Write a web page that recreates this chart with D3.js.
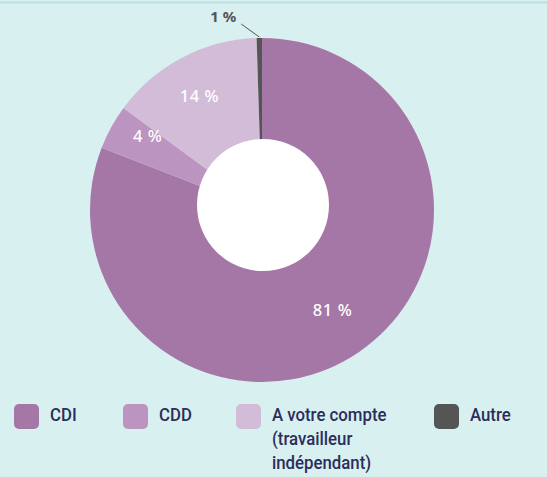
<!DOCTYPE html>
<html>
<head>
<meta charset="utf-8">
<script src="https://cdn.jsdelivr.net/npm/d3@7"></script>
<style>
  html, body { margin: 0; padding: 0; background: #d9f0f0; }
  svg { display: block; }
</style>
</head>
<body>
<div id="chart"></div>
<script>
  // données
  var categories = ['CDI', 'CDD', 'A votre compte (travailleur indépendant)', 'Autre'];
  var values = [80.9, 4.2, 14.4, 0.5];
  var valueLabels = ['81 %', '4 %', '14 %', '1 %'];
  var legendLines = [['CDI'], ['CDD'], ['A votre compte', '(travailleur', 'indépendant)'], ['Autre']];
  var colors = ['#a577a7', '#bb94bf', '#d3bcd8', '#555555'];

  var width = 547, height = 477;
  var cx = 262, cy = 210;
  var outerR = 172, innerR = 66;

  var svg = d3.select('#chart')
    .append('svg')
    .attr('width', width)
    .attr('height', height);

  svg.append('rect')
    .attr('width', width)
    .attr('height', height)
    .attr('fill', '#d9f0f0');

  svg.append('line')
    .attr('x1', 0).attr('x2', width)
    .attr('y1', 2.5).attr('y2', 2.5)
    .style('stroke', '#bcdfe3')
    .style('stroke-width', '2px');

  var pie = d3.pie().sort(null).value(function(d) { return d; });
  var arcs = pie(values);

  var arc = d3.arc().innerRadius(0).outerRadius(outerR);

  var g = svg.append('g')
    .attr('transform', 'translate(' + cx + ',' + cy + ')');

  g.selectAll('path')
    .data(arcs)
    .enter()
    .append('path')
    .attr('d', arc)
    .attr('fill', function(d, i) { return colors[i]; });

  // trou central (légèrement décalé vers le haut comme dans l'original)
  g.append('circle')
    .attr('cx', 1)
    .attr('cy', -5)
    .attr('r', innerR)
    .attr('fill', '#ffffff');

  // étiquettes internes
  var labelRadius = [125, 135, 128];
  var labelShift = [[0, -3], [4, -9], [-3, 0]];
  g.selectAll('text.val')
    .data(arcs.slice(0, 3))
    .enter()
    .append('text')
    .attr('class', 'val')
    .attr('transform', function(d, i) {
      var a = (d.startAngle + d.endAngle) / 2;
      var x = Math.sin(a) * labelRadius[i] + labelShift[i][0];
      var y = -Math.cos(a) * labelRadius[i] + labelShift[i][1];
      return 'translate(' + x + ',' + y + ')';
    })
    .attr('text-anchor', 'middle')
    .attr('dy', '0.35em')
    .style('font-family', '"Noto Sans", sans-serif')
    .style('font-size', '16.5px')
    .style('font-weight', '500')
    .style('letter-spacing', '0.6px')
    .style('fill', '#ffffff')
    .text(function(d, i) { return valueLabels[i]; });

  // étiquette extérieure avec trait de rappel
  var small = arcs[3];
  var sa = (small.startAngle + small.endAngle) / 2;
  var p1 = [Math.sin(sa) * (outerR + 1), -Math.cos(sa) * (outerR + 1)];
  var p2 = [p1[0] - 18, p1[1] - 13];
  g.append('line')
    .attr('x1', p1[0]).attr('y1', p1[1])
    .attr('x2', p2[0]).attr('y2', p2[1])
    .style('stroke', '#555555')
    .style('stroke-width', '1px');

  g.append('text')
    .attr('x', p2[0] - 5)
    .attr('y', p2[1] - 2)
    .attr('text-anchor', 'end')
    .style('font-family', '"Noto Sans", sans-serif')
    .style('font-size', '15px')
    .style('font-weight', '700')
    .style('fill', '#555555')
    .text(valueLabels[3]);

  // légende
  var legendX = [14, 123, 236, 434];
  var legend = svg.append('g').attr('class', 'legend');
  var items = legend.selectAll('g')
    .data(categories)
    .enter()
    .append('g')
    .attr('transform', function(d, i) { return 'translate(' + legendX[i] + ',404)'; });

  items.append('rect')
    .attr('width', 25)
    .attr('height', 25)
    .attr('rx', 5)
    .attr('fill', function(d, i) { return colors[i]; });

  items.append('text')
    .attr('y', 17)
    .style('font-family', 'Roboto, sans-serif')
    .style('font-size', '17.5px')
    .style('font-weight', '500')
    .style('fill', '#2b2d5c')
    .attr('transform', 'scale(0.96,1)')
    .each(function(d, i) {
      var t = d3.select(this);
      legendLines[i].forEach(function(line, j) {
        t.append('tspan')
          .attr('x', 37.5)
          .attr('dy', j === 0 ? 0 : 24)
          .text(line);
      });
    });
</script>
</body>
</html>
